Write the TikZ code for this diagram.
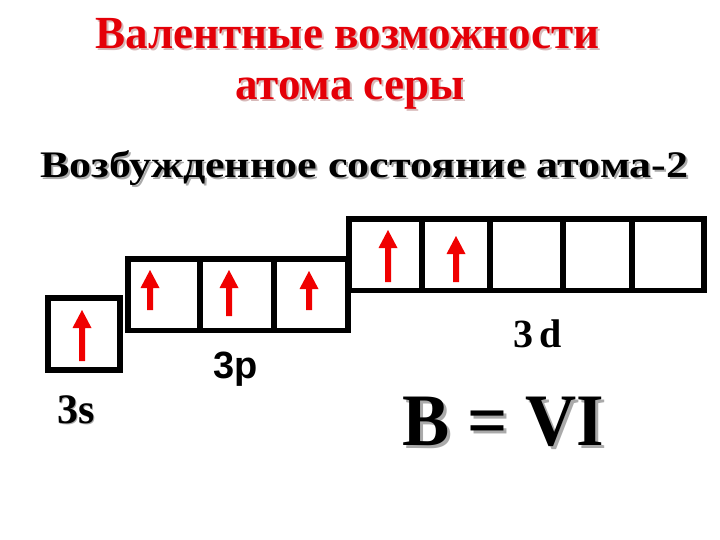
\documentclass[tikz,border=0pt]{standalone}
\usepackage{fontspec}
\setmainfont{Liberation Serif}
\newfontfamily\arialfont{Liberation Sans}
\definecolor{tred}{RGB}{228,0,8}
\definecolor{ared}{RGB}{240,0,0}
\definecolor{tshadow}{RGB}{215,185,185}
\definecolor{kshadow}{RGB}{170,170,170}
\newcommand{\uparr}[3]{\fill[ared] (#1-3,#3) -- (#1-3,#2+18) -- (#1-9.5,#2+18) -- (#1,#2) -- (#1+9.5,#2+18) -- (#1+3,#2+18) -- (#1+3,#3) -- cycle;}
\begin{document}
\begin{tikzpicture}[x=1pt,y=-1pt,
  orb/.style={draw=black, line width=5.7pt, minimum height=71.8pt, inner sep=0pt, outer sep=0pt},
  title/.style={font=\fontsize{46}{46}\selectfont\bfseries, text=tred, inner sep=0pt, anchor=base, xscale=0.98},
  tshad/.style={font=\fontsize{46}{46}\selectfont\bfseries, text=tshadow, inner sep=0pt, anchor=base, xscale=0.98},
  lab/.style={inner sep=0pt, anchor=base west}]
\useasboundingbox (0,0) rectangle (720,540);
% title
\node[tshad] (t1s) at (349.5,50.5) {Валентные возможности};
\node[title] (t1) at (347.5,48.5) {Валентные возможности};
\node[tshad] (t2s) at (352,102) {атома серы};
\node[title] (t2) at (350,100) {атома серы};
% subtitle
\node[inner sep=0pt, anchor=base west, xscale=1.175, text=kshadow, font=\fontsize{37.5}{37.5}\selectfont\bfseries] (subs) at (42,179.3) {Возбужденное состояние атома-2};
\node[inner sep=0pt, anchor=base west, xscale=1.175, font=\fontsize{37.5}{37.5}\selectfont\bfseries] (sub) at (40,177.3) {Возбужденное состояние атома-2};
% boxes
\node[orb, minimum width=72.2pt] (s1) at (83.9,333.75) {};
\node[orb, minimum width=72.2pt] (p1) at (163.9,294.65) {};
\node[orb, minimum width=74pt] (p2) at (237,294.65) {};
\node[orb, minimum width=74.3pt] (p3) at (311.15,294.65) {};
\node[orb, minimum width=72.9pt] (d1) at (385.25,254.65) {};
\node[orb, minimum width=68pt] (d2) at (455.7,254.65) {};
\node[orb, minimum width=73.1pt] (d3) at (526.25,254.65) {};
\node[orb, minimum width=68.9pt] (d4) at (597.25,254.65) {};
\node[orb, minimum width=72.5pt] (d5) at (667.95,254.65) {};
% arrows
\uparr{82}{310}{361}
\uparr{150}{270}{310}
\uparr{229}{270}{316}
\uparr{309}{271}{310}
\uparr{388}{230}{282}
\uparr{456}{236}{282}
% labels
\node[lab, font=\fontsize{42}{42}\selectfont\bfseries, text=kshadow] (l3ss) at (58.5,424.5) {3s};
\node[lab, font=\fontsize{42}{42}\selectfont\bfseries] (l3s) at (57,423) {3s};
\node[lab, font=\arialfont\fontsize{38}{38}\selectfont\bfseries] (l3p) at (213,378) {3p};
\node[lab, font=\fontsize{40}{40}\selectfont\bfseries] (l3d) at (513,347) {3\,d};
\node[lab, xscale=0.957, font=\fontsize{74}{74}\selectfont\bfseries, text=kshadow] (vals) at (405,448) {B = VI};
\node[lab, xscale=0.957, font=\fontsize{74}{74}\selectfont\bfseries] (val) at (402,445) {B = VI};
\end{tikzpicture}
\end{document}
